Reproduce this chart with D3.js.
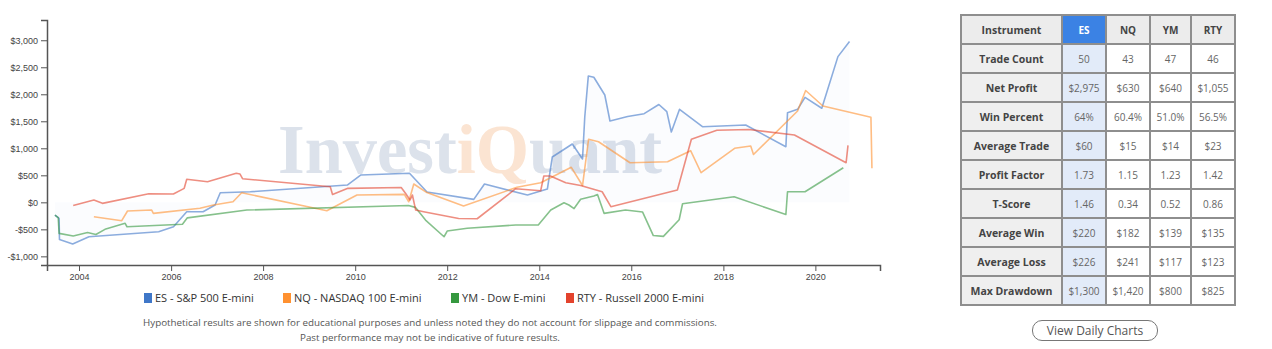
<!DOCTYPE html>
<html>
<head>
<meta charset="utf-8">
<script src="https://cdn.jsdelivr.net/npm/d3@7"></script>
<style>
  body { margin: 0; background: #fff; font-family: "Open Sans", sans-serif; }
  #wrap { position: relative; width: 1272px; height: 349px; overflow: hidden; }
  svg { position: absolute; left: 0; top: 0; }
  table.stats { position: absolute; left: 960px; top: 14px; border-collapse: collapse; border: 2px solid #8e8e8e; }
  table.stats td { border: 2px solid #8e8e8e; height: 27px; padding: 0; text-align: center; font-size: 10px; color: #666; }
  table.stats td.lab { background: #efefef; font-weight: bold; font-size: 10.5px; color: #444; width: 99px; }
  table.stats td.head { background: #ececec; font-weight: bold; color: #444; }
  table.stats td.es { background: #e2ebf9; }
  table.stats td.es.head { background: #3b82e4; color: #fff; }
  .btn { position: absolute; left: 1032px; top: 320px; width: 124px; height: 19px; border: 1.5px solid #777; border-radius: 10px;
         font-size: 12px; color: #555; text-align: center; line-height: 19px; }
</style>
</head>
<body>
<div id="wrap"></div>
<script>
// series: [date, cumulative profit]
var esPoints = [
  ["2003-06-24", -235], ["2003-07-27", -296], ["2003-07-30", -690], ["2003-11-12", -772],
  ["2004-03-20", -637], ["2005-09-24", -544], ["2006-01-20", -452], ["2006-05-05", -174],
  ["2006-09-12", -174], ["2006-12-16", -50], ["2007-01-26", 178], ["2007-09-21", 196],
  ["2009-10-30", 320], ["2010-02-13", 505], ["2011-03-08", 537], ["2011-07-25", 190],
  ["2012-07-30", 55], ["2012-10-23", 339], ["2013-09-29", 135], ["2014-03-06", 246],
  ["2014-04-14", 839], ["2014-09-20", 1080], ["2014-12-10", 802], ["2014-12-28", 1585],
  ["2015-01-25", 2339], ["2015-03-10", 2315], ["2015-06-05", 1987], ["2015-07-16", 1506],
  ["2015-12-03", 1589], ["2016-04-12", 1641], ["2016-08-07", 1811], ["2016-10-09", 1678],
  ["2016-11-14", 1302], ["2017-01-18", 1722], ["2017-07-19", 1400], ["2018-06-27", 1432],
  ["2019-05-12", 1030], ["2019-05-25", 1660], ["2019-08-13", 1722], ["2019-10-11", 1944],
  ["2020-02-21", 1741], ["2020-06-28", 2697], ["2020-09-28", 2975]
];
var nqPoints = [
  ["2004-04-28", -266], ["2004-12-05", -340], ["2005-01-20", -161], ["2005-07-31", -143],
  ["2005-08-13", -204], ["2006-08-18", -111], ["2006-12-03", -50], ["2007-05-07", 11],
  ["2007-07-15", 178], ["2009-05-21", -155], ["2010-01-15", 135], ["2011-01-26", 148],
  ["2011-03-02", 11], ["2011-04-11", 339], ["2011-07-24", 181], ["2012-05-10", -69],
  ["2013-07-08", 278], ["2014-01-12", 363], ["2014-09-12", 648], ["2014-12-10", 311],
  ["2015-01-27", 1167], ["2015-04-16", 1122], ["2015-12-22", 733], ["2016-10-15", 752],
  ["2017-04-16", 956], ["2017-07-08", 548], ["2018-03-31", 1000], ["2018-08-06", 1043],
  ["2018-08-28", 885], ["2019-08-13", 1690], ["2019-10-16", 2070], ["2020-03-01", 1783],
  ["2021-03-17", 1574], ["2021-03-25", 630]
];
var ymPoints = [
  ["2003-06-24", -235], ["2003-07-20", -281], ["2003-07-27", -574], ["2003-11-16", -624],
  ["2004-03-09", -559], ["2004-05-14", -596], ["2004-07-25", -500], ["2005-01-01", -389],
  ["2005-01-16", -452], ["2006-04-01", -405], ["2006-05-10", -287], ["2007-08-25", -143],
  ["2011-02-28", -59], ["2011-04-23", -93], ["2011-07-13", -328], ["2011-12-07", -637],
  ["2012-01-01", -531], ["2012-06-08", -481], ["2013-06-28", -420], ["2013-12-24", -420],
  ["2014-04-02", -143], ["2014-07-16", -7], ["2014-08-24", -50], ["2014-10-04", -115],
  ["2014-11-25", 56], ["2015-03-10", 117], ["2015-04-08", 144], ["2015-05-30", -204],
  ["2015-11-16", -143], ["2016-03-31", -180], ["2016-06-24", -615], ["2016-09-12", -630],
  ["2017-01-15", -322], ["2017-02-11", -26], ["2018-03-27", 104], ["2019-05-12", -226],
  ["2019-05-25", 196], ["2019-10-11", 196], ["2020-08-10", 640]
];
var rtyPoints = [
  ["2003-11-16", -59], ["2004-04-28", 43], ["2004-07-05", -19], ["2005-07-08", 159],
  ["2006-01-19", 154], ["2006-04-15", 259], ["2006-05-05", 426], ["2006-10-17", 381],
  ["2007-06-02", 537], ["2007-07-02", 524], ["2007-07-22", 437], ["2009-06-17", 289],
  ["2009-07-05", 144], ["2009-11-04", 259], ["2011-01-01", 274], ["2011-02-04", 167],
  ["2011-03-12", 43], ["2011-03-31", 135], ["2011-04-26", -143], ["2011-06-28", -174],
  ["2012-04-01", -300], ["2012-08-26", -304], ["2013-06-28", 252], ["2014-01-12", 215],
  ["2014-02-06", 487], ["2014-03-30", 487], ["2014-07-30", 363], ["2014-11-25", 311],
  ["2015-05-15", 196], ["2015-07-23", -81], ["2017-01-01", 228], ["2017-04-22", 1167],
  ["2017-11-10", 1333], ["2018-07-23", 1348], ["2019-07-19", 1246], ["2020-09-01", 733],
  ["2020-09-16", 1055]
];

var seriesNames = ["ES - S&P 500 E-mini", "NQ - NASDAQ 100 E-mini", "YM - Dow E-mini", "RTY - Russell 2000 E-mini"];
var seriesColors = ["#3f77c8", "#ff9130", "#35983f", "#e3432d"];
var yTicks = [-1000, -500, 0, 500, 1000, 1500, 2000, 2500, 3000];

var tableHeader = ["Instrument", "ES", "NQ", "YM", "RTY"];
var tableRows = ["Trade Count", "Net Profit", "Win Percent", "Average Trade", "Profit Factor", "T-Score", "Average Win", "Average Loss", "Max Drawdown"];
var esStats = ["50", "$2,975", "64%", "$60", "1.73", "1.46", "$220", "$226", "$1,300"];
var nqStats = ["43", "$630", "60.4%", "$15", "1.15", "0.34", "$182", "$241", "$1,420"];
var ymStats = ["47", "$640", "51.0%", "$14", "1.23", "0.52", "$139", "$117", "$800"];
var rtyStats = ["46", "$1,055", "56.5%", "$23", "1.42", "0.86", "$135", "$123", "$825"];

var footnotes = ["Hypothetical results are shown for educational purposes and unless noted they do not account for slippage and commissions.",
                 "Past performance may not be indicative of future results."];

var parse = d3.timeParse("%Y-%m-%d");
var series = [esPoints, nqPoints, ymPoints, rtyPoints].map(function (pts) {
    return pts.map(function (p) { return { date: parse(p[0]), value: p[1] }; });
});

var wrap = d3.select("#wrap");
var svg = wrap.append("svg").attr("width", 1272).attr("height", 349);

// SCALES
var x = d3.scaleTime()
    .domain([parse("2003-04-22"), parse("2021-05-28")])
    .range([47, 880]);
var y = d3.scaleLinear()
    .domain([-1160, 3375])
    .range([265, 20]);

//watermark
var wm = svg.append("text")
    .attr("x", 278).attr("y", 173)
    .attr("font-family", "Liberation Serif, serif")
    .attr("font-weight", "bold")
    .attr("font-size", 70)
    .attr("textLength", 384)
    .attr("lengthAdjust", "spacingAndGlyphs");
wm.append("tspan").attr("fill", "#dce2eb").text("Invest");
wm.append("tspan").attr("fill", "#fbe4d2").text("iQ");
wm.append("tspan").attr("fill", "#dce2eb").text("uant");

//---AXES
var leftAxis = d3.axisLeft(y).tickValues(yTicks)
    .tickFormat(function (d) { return (d < 0 ? "-$" : "$") + d3.format(",")(Math.abs(d)); });
var gy = svg.append("g").attr("transform", "translate(47,0)").call(leftAxis);

var bottomAxis = d3.axisBottom(x).ticks(d3.timeYear.every(2)).tickFormat(d3.timeFormat("%Y"));
var gx = svg.append("g").attr("transform", "translate(0,265)").call(bottomAxis);

[gx, gy].forEach(function (g) {
    g.select(".domain").attr("stroke", "#555").attr("stroke-width", 1.5);
    g.selectAll(".tick line").attr("stroke", "#555");
    g.selectAll("text").attr("fill", "#444").attr("font-size", 9)
        .attr("font-family", "Liberation Sans, Arial, sans-serif");
});

// lines
var line = d3.line()
    .x(function (d) { return x(d.date); })
    .y(function (d) { return y(d.value); });

// faint fill under the selected instrument
svg.append("path")
    .datum(series[0])
    .attr("d", d3.area().x(function (d) { return x(d.date); }).y0(y(0)).y1(function (d) { return y(d.value); }))
    .attr("fill", "#3f77c8")
    .attr("fill-opacity", 0.018);

series.forEach(function (s, i) {
    svg.append("path")
        .datum(s)
        .attr("d", line)
        .attr("fill", "none")
        .attr("stroke", seriesColors[i])
        .attr("stroke-width", 1.6)
        .attr("stroke-opacity", 0.6)
        .attr("stroke-linejoin", "round");
});

// legend
var legendX = [144, 283, 451, 566];
var lg = svg.append("g").attr("font-family", "Open Sans, sans-serif").attr("font-size", 11);
seriesNames.forEach(function (name, i) {
    lg.append("rect").attr("x", legendX[i]).attr("y", 293).attr("width", 8).attr("height", 10)
        .attr("fill", seriesColors[i]);
    lg.append("text").attr("x", legendX[i] + 11).attr("y", 302).attr("fill", "#333").text(name);
});

// footnote
svg.selectAll(".foot")
    .data(footnotes)
    .enter()
    .append("text")
    .attr("class", "foot")
    .attr("x", 430)
    .attr("y", function (d, i) { return 326 + i * 15; })
    .attr("text-anchor", "middle")
    .attr("font-family", "Open Sans, sans-serif")
    .attr("font-size", 9.8)
    .attr("fill", "#555")
    .text(function (d) { return d; });

// stats table
var table = wrap.append("table").attr("class", "stats");
var hr = table.append("tr");
tableHeader.forEach(function (h, j) {
    hr.append("td").attr("class", j === 0 ? "lab head" : (j === 1 ? "head es" : "head")).text(h);
});
var colWidths = [null, 42, 42, 39, 42];
tableRows.forEach(function (r, i) {
    var tr = table.append("tr");
    tr.append("td").attr("class", "lab").text(r);
    [esStats, nqStats, ymStats, rtyStats].forEach(function (col, j) {
        tr.append("td").attr("class", j === 0 ? "es" : null)
            .style("width", colWidths[j + 1] + "px").text(col[i]);
    });
});

wrap.append("div").attr("class", "btn").text("View Daily Charts");
</script>
</body>
</html>
